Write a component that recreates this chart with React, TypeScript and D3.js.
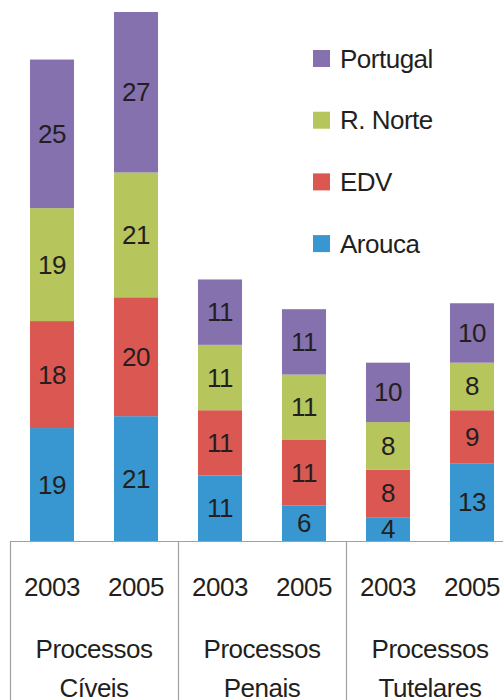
import React, { useRef, useEffect } from "react";
import * as d3 from "d3";

const WIDTH = 503;
const HEIGHT = 700;

const GROUPS = ["Processos|Cíveis", "Processos|Penais", "Processos|Tutelares"];
const YEARS = ["2003", "2005"];
const SERIES = ["Arouca", "EDV", "R. Norte", "Portugal"];

// one entry per bar, in order: Cíveis 2003, 2005, Penais 2003, 2005, Tutelares 2003, 2005
const AROUCA = [19, 21, 11, 6, 4, 13];
const EDV = [18, 20, 11, 11, 8, 9];
const R_NORTE = [19, 21, 11, 11, 8, 8];
const PORTUGAL = [25, 27, 11, 11, 10, 10];

const COLORS: Record<string, string> = {
  Arouca: "#3897d0",
  EDV: "#db5752",
  "R. Norte": "#b6c55c",
  Portugal: "#8571ad",
};

const LEGEND_ORDER = ["Portugal", "R. Norte", "EDV", "Arouca"];

export default function App() {
  const svgRef = useRef<SVGSVGElement>(null);

  useEffect(() => {
    const svg = d3.select(svgRef.current);
    svg.selectAll("*").remove();

    const rows = GROUPS.flatMap((g, gi) =>
      YEARS.map((y, yi) => {
        const i = gi * 2 + yi;
        return {
          key: `${gi}-${y}`,
          group: g,
          year: y,
          Arouca: AROUCA[i],
          EDV: EDV[i],
          "R. Norte": R_NORTE[i],
          Portugal: PORTUGAL[i],
        };
      }),
    );

    // plot area runs past the right edge (the picture is cropped)
    const x = d3
      .scaleBand()
      .domain(rows.map((r) => r.key))
      .range([10, 514])
      .paddingInner(0.476)
      .paddingOuter(0.238);

    const y = d3.scaleLinear().domain([0, 89]).range([541, 12]);

    const series = d3.stack<any>().keys(SERIES)(rows);

    const font = "'Liberation Sans', Arial, sans-serif";
    const g = svg.append("g").style("font-family", font);

    // ── Bars ──
    series.forEach((s) => {
      g.append("g")
        .selectAll("rect")
        .data(s)
        .join("rect")
        .attr("x", (d: any) => x(d.data.key)!)
        .attr("width", x.bandwidth())
        .attr("y", (d) => y(d[1]))
        .attr("height", (d) => y(d[0]) - y(d[1]))
        .attr("fill", COLORS[s.key]);

      g.append("g")
        .selectAll("text")
        .data(s)
        .join("text")
        .attr("x", (d: any) => x(d.data.key)! + x.bandwidth() / 2)
        .attr("y", (d) => (y(d[0]) + y(d[1])) / 2 + 9)
        .attr("text-anchor", "middle")
        .attr("font-size", 26)
        .attr("letter-spacing", -0.5)
        .attr("fill", "#231f20")
        .text((d) => d[1] - d[0]);
    });

    // ── Category axis ──
    const step = x.step();
    const axisColor = "#a0a0a0";
    g.append("line")
      .attr("x1", 10)
      .attr("x2", 514)
      .attr("y1", y(0) + 0.5)
      .attr("y2", y(0) + 0.5)
      .attr("stroke", axisColor)
      .attr("stroke-width", 1.2);

    [0, 1, 2, 3].forEach((i) => {
      const xx = 10 + i * step * 2 + 0.5;
      g.append("line")
        .attr("x1", xx)
        .attr("x2", xx)
        .attr("y1", y(0))
        .attr("y2", HEIGHT)
        .attr("stroke", axisColor)
        .attr("stroke-width", 1.2);
    });

    g.append("g")
      .selectAll("text")
      .data(rows)
      .join("text")
      .attr("x", (d) => x(d.key)! + x.bandwidth() / 2)
      .attr("y", 596)
      .attr("text-anchor", "middle")
      .attr("font-size", 26)
      .attr("letter-spacing", -0.5)
      .attr("fill", "#231f20")
      .text((d) => d.year);

    GROUPS.forEach((name, gi) => {
      const cx = 10 + gi * step * 2 + step;
      name.split("|").forEach((line, li) => {
        g.append("text")
          .attr("x", cx)
          .attr("y", 658 + li * 39)
          .attr("text-anchor", "middle")
          .attr("font-size", 26)
          .attr("letter-spacing", -0.5)
          .attr("fill", "#231f20")
          .text(line);
      });
    });

    // ── Legend ──
    const legend = g.append("g").attr("transform", "translate(313, 50)");
    LEGEND_ORDER.forEach((k, i) => {
      const row = legend.append("g").attr("transform", `translate(0, ${i * 61.7})`);
      row.append("rect").attr("width", 17).attr("height", 17).attr("fill", COLORS[k]);
      row
        .append("text")
        .attr("x", 27)
        .attr("y", 17.5)
        .attr("font-size", 26)
        .attr("letter-spacing", -0.5)
        .attr("fill", "#231f20")
        .text(k);
    });
  }, []);

  return (
    <svg
      ref={svgRef}
      width={WIDTH}
      height={HEIGHT}
      style={{ position: "absolute", left: 0, top: 0, background: "#fff" }}
    />
  );
}
